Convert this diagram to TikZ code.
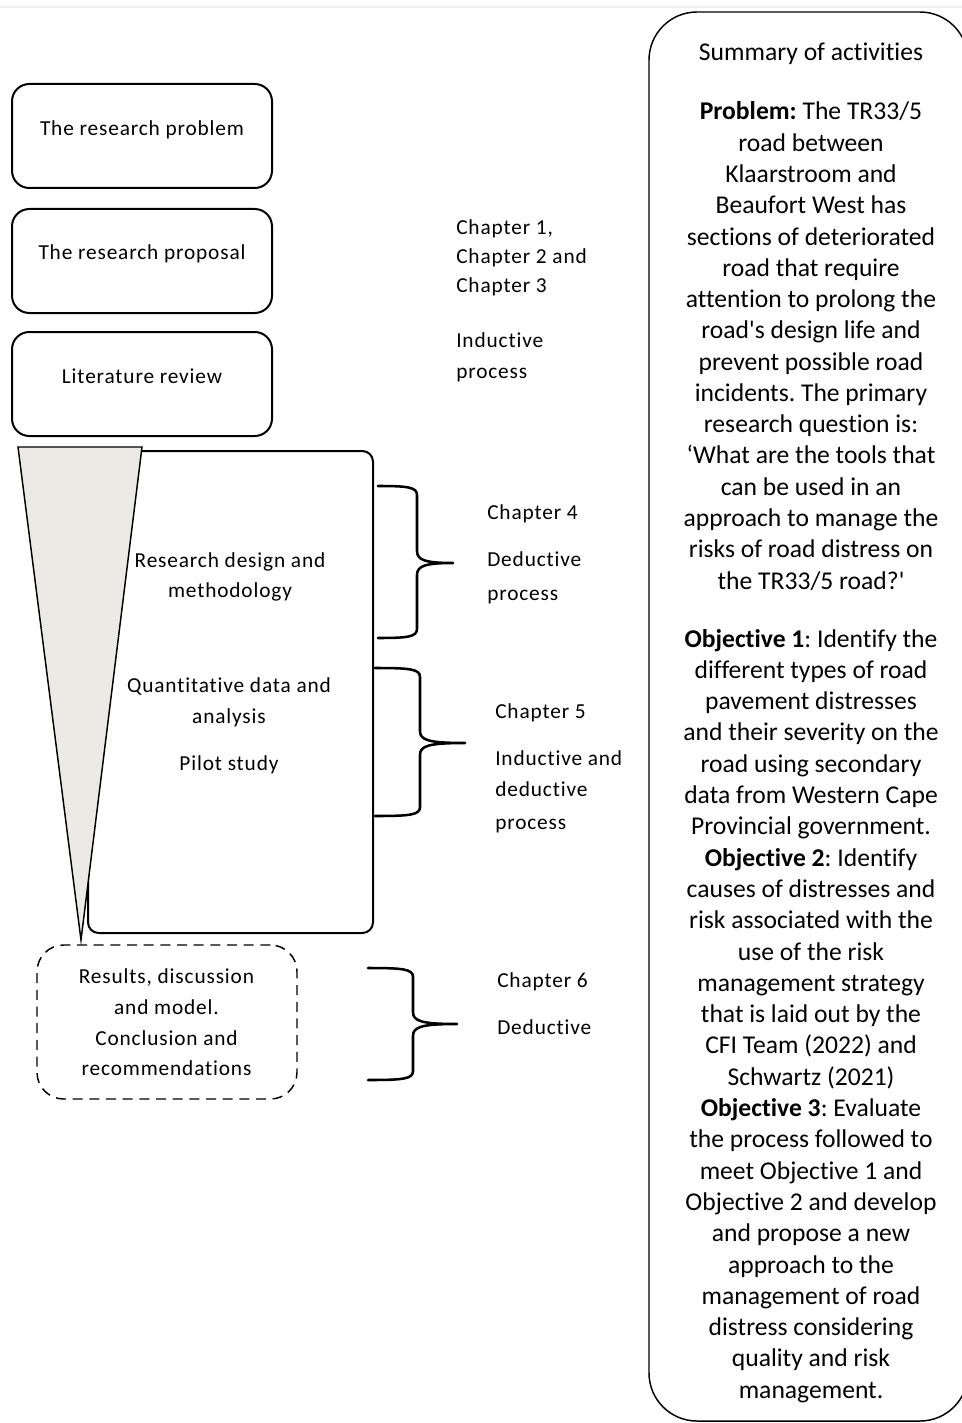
\documentclass[tikz,border=0pt]{standalone}
\usepackage{fontspec}
\setmainfont{Carlito}[Ligatures={NoCommon}]
\newfontfamily\sidefont{Carlito}[LetterSpace=4,Ligatures={NoCommon}]
\newfontfamily\plainq{Carlito}[Ligatures=TeXOff]
\definecolor{funnel}{RGB}{236,234,228}
\definecolor{rule}{RGB}{240,240,240}
\newcommand\straightq{{\plainq'}}
\frenchspacing

% curly brace: #1 open end x, #2 spine x, #3 tip x, #4 top y, #5 middle y, #6 bottom y
\newcommand\chbrace[6]{%
  \draw[bracestroke] (#1,#4) .. controls (#2-10,#4) and (#2,#4+1) .. (#2,#4+9)
    -- (#2,#5-12) .. controls (#2,#5-3) and (#2+8,#5) .. (#3,#5)
    .. controls (#2+8,#5) and (#2,#5+3) .. (#2,#5+12)
    -- (#2,#6-9) .. controls (#2,#6-1) and (#2-10,#6) .. (#1,#6);}

\begin{document}
\begin{tikzpicture}[x=0.75pt,y=-0.75pt,
  stagebox/.style={draw, line width=1.5pt, rounded corners=13pt, inner sep=0pt,
    minimum width=195pt, minimum height=78pt},
  ltext/.style={font=\sidefont\fontsize{16}{20}\selectfont, inner sep=0pt, anchor=base},
  mtext/.style={font=\sidefont\fontsize{16}{20}\selectfont, inner sep=0pt, anchor=base west},
  rtext/.style={font=\fontsize{19.2}{23.5}\selectfont, inner sep=0pt, anchor=base},
  bracestroke/.style={line width=1.9pt, line cap=round, line join=round}]
\useasboundingbox (0,0) rectangle (962,1423);

% thin rule along the top edge
\draw[rule, line width=1.5pt] (0,7) -- (962,7);

% stacked stage boxes
\node[stagebox] (problem) at (142,136) {};
\node[stagebox] (proposal) at (142,261) {};
\node[stagebox] (review) at (142,384) {};
\node[ltext] (tproblem) at (142,136) {The research problem};
\node[ltext] (tproposal) at (142,259) {The research proposal};
\node[ltext] (treview) at (142,383) {Literature review};

% main stage box with the funnel drawn over its left side
\node[draw, line width=1.5pt, rounded corners=8pt, inner sep=0pt,
  minimum width=213.75pt, minimum height=361.5pt] (method) at (230.5,692) {};
\draw[fill=funnel, line width=1.1pt, line join=miter] (18,447) -- (142,447) -- (81,940) -- cycle;
\node[ltext] (tm1) at (230,567) {Research design and};
\node[ltext] (tm2) at (230,597) {methodology};
\node[ltext] (tm3) at (229,692) {Quantitative data and};
\node[ltext] (tm4) at (229,723) {analysis};
\node[ltext] (tm5) at (229,770) {Pilot study};

% final stage, dashed
\node[draw, dash pattern=on 7.5pt off 5pt, line width=1.1pt, rounded corners=20pt,
  inner sep=0pt, minimum width=195pt, minimum height=115.5pt] (results) at (167,1022) {};
\node[ltext] (tr1) at (166.5,983) {Results, discussion};
\node[ltext] (tr2) at (166.5,1014) {and model.};
\node[ltext] (tr3) at (166.5,1045) {Conclusion and};
\node[ltext] (tr4) at (166.5,1075) {recommendations};

% chapter notes
\node[mtext] (c1) at (456,234) {Chapter 1,};
\node[mtext] (c2) at (456,263) {Chapter 2 and};
\node[mtext] (c3) at (456,292) {Chapter 3};
\node[mtext] (c4) at (456,347) {Inductive};
\node[mtext] (c5) at (456,378) {process};

\node[mtext] (d1) at (487,519) {Chapter 4};
\node[mtext] (d2) at (487,566) {Deductive};
\node[mtext] (d3) at (487,600) {process};

\node[mtext] (e1) at (495,718) {Chapter 5};
\node[mtext] (e2) at (495,765) {Inductive and};
\node[mtext] (e3) at (495,796) {deductive};
\node[mtext] (e4) at (495,829) {process};

\node[mtext] (f1) at (497,987) {Chapter 6};
\node[mtext] (f2) at (497,1034) {Deductive};

% braces
\chbrace{378}{417}{453}{486}{563}{638}
\chbrace{375}{420}{465}{668}{743}{816}
\chbrace{368}{413}{457}{968}{1024}{1080}

% summary panel
\draw[line width=1.1pt, rounded corners=36pt] (649,12) rectangle (968,1421);
\node[rtext] (title) at (811,61) {Summary of activities};
\foreach \t [count=\i from 0] in {%
  {\textbf{Problem:} The TR33/5},
  {road between},
  {Klaarstroom and},
  {Beaufort West has},
  {sections of deteriorated},
  {road that require},
  {attention to prolong the},
  {road\straightq s design life and},
  {prevent possible road},
  {incidents. The primary},
  {research question is:},
  {‘What are the tools that},
  {can be used in an},
  {approach to manage the},
  {risks of road distress on},
  {the TR33/5 road?\straightq}}
  \node[rtext] (p\i) at (811,{120+31.27*\i}) {\t};
\foreach \t [count=\i from 0] in {%
  {\textbf{Objective 1}: Identify the},
  {different types of road},
  {pavement distresses},
  {and their severity on the},
  {road using secondary},
  {data from Western Cape},
  {Provincial government.},
  {\textbf{Objective 2}: Identify},
  {causes of distresses and},
  {risk associated with the},
  {use of the risk},
  {management strategy},
  {that is laid out by the},
  {CFI Team (2022) and},
  {Schwartz (2021)},
  {\textbf{Objective 3}: Evaluate},
  {the process followed to},
  {meet Objective 1 and},
  {Objective 2 and develop},
  {and propose a new},
  {approach to the},
  {management of road},
  {distress considering},
  {quality and risk},
  {management.}}
  \node[rtext] (o\i) at (811,{647+31.3*\i}) {\t};
\end{tikzpicture}
\end{document}
